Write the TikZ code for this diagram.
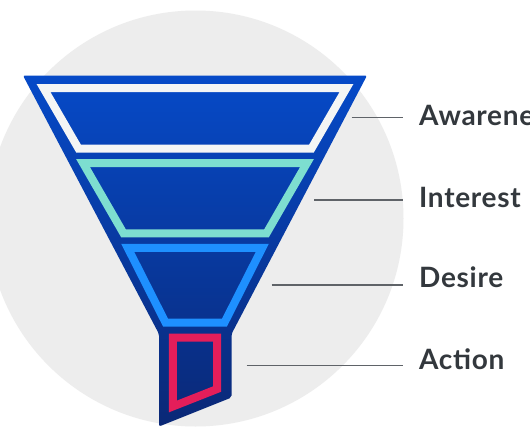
\documentclass[tikz,border=0pt]{standalone}
\usepackage{fontspec}
\setmainfont{Lato}
\definecolor{bgcircle}{RGB}{237,237,237}
\definecolor{ftop}{RGB}{6,74,200}
\definecolor{fbot}{RGB}{10,40,118}
\definecolor{bandwhite}{RGB}{244,245,245}
\definecolor{bandteal}{RGB}{125,222,208}
\definecolor{bandblue}{RGB}{30,144,255}
\definecolor{bandred}{RGB}{228,30,90}
\definecolor{conngray}{RGB}{95,99,104}
\definecolor{txtgray}{RGB}{51,56,61}
\tikzset{
  band/.style={line width=8pt, line join=miter},
  conn/.style={draw=conngray, line width=1.5pt},
  lbl/.style={text=txtgray, font=\fontsize{28}{30}\selectfont\bfseries\addfontfeatures{LetterSpace=2.5}, inner sep=0pt, anchor=base west}
}
\begin{document}
\begin{tikzpicture}[x={(1pt,0)}, y={(0,-1pt)}]
\useasboundingbox (0,0) rectangle (530,442);
\clip (0,0) rectangle (530,442);
\fill[white] (0,0) rectangle (530,442);
% background circle
\fill[bgcircle] (195.5,218.5) circle[radius=208];
% funnel body
\shade[top color=ftop, bottom color=fbot, rounded corners=2pt]
  (23,75.5) -- (367,75.5) -- (231.5,334) -- (231.5,397.5) -- (159,426.5) -- (159,334) -- cycle;
% bands
\draw[band, draw=bandwhite] (43.5,88) -- (346.5,88) -- (311.5,148.5) -- (78.5,148.5) -- cycle;
\draw[band, draw=bandteal] (83,163) -- (307,163) -- (266.5,233.3) -- (123.5,233.3) -- cycle;
\draw[band, draw=bandblue] (127.7,247.8) -- (262.3,247.8) -- (224.5,322.5) -- (165.5,322.5) -- cycle;
\draw[band, draw=bandred] (172.8,337.5) -- (217.2,337.5) -- (217.2,389) -- (172.8,406.5) -- cycle;
% labels
\node[lbl] (aw) at (419,125.5) {Awareness};
\node[lbl] (in) at (419,207) {Interest};
\node[lbl] (de) at (419,287) {Desire};
\node[lbl] (ac) at (419,369.5) {Action};
% connector start points
\coordinate (caw) at (351.7,117.3);
\coordinate (cin) at (314,200);
\coordinate (cde) at (271.7,285);
\coordinate (cac) at (246.7,365.7);
\draw[conn, shorten >=16.3pt] (caw) -- (caw -| aw.west);
\draw[conn, shorten >=16.3pt] (cin) -- (cin -| in.west);
\draw[conn, shorten >=16.3pt] (cde) -- (cde -| de.west);
\draw[conn, shorten >=16.3pt] (cac) -- (cac -| ac.west);
\end{tikzpicture}
\end{document}
